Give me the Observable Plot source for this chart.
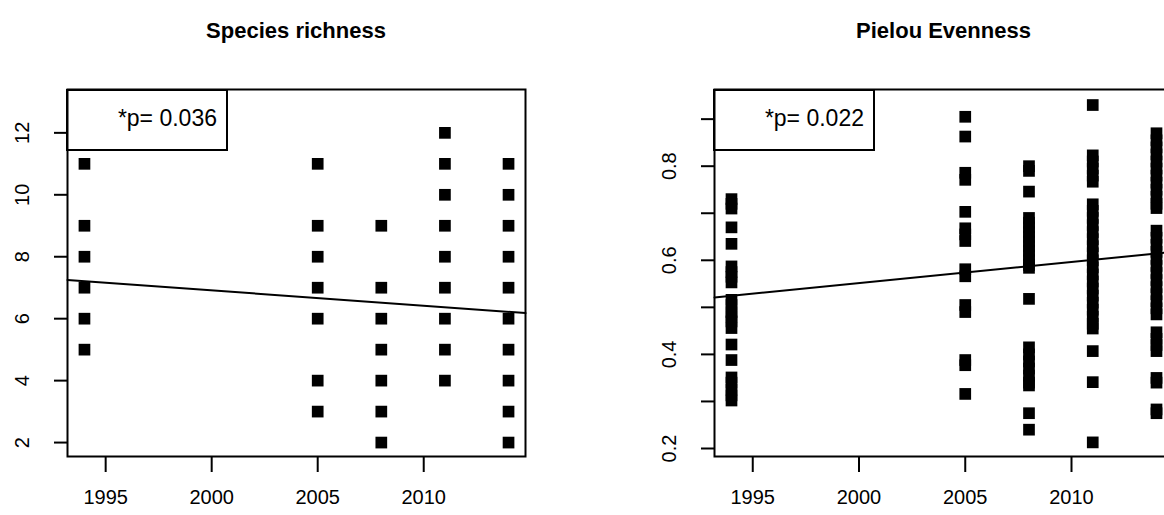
<!DOCTYPE html>
<html><head><meta charset="utf-8">
<script src="https://cdn.jsdelivr.net/npm/d3@7"></script>
<script src="https://cdn.jsdelivr.net/npm/@observablehq/plot@0.6"></script>
<style>
body{margin:0;background:#fff;}
#wrap{position:relative;width:1164px;height:515px;overflow:hidden;background:#fff;font-family:"Liberation Sans",Arial,sans-serif;}
.panel{position:absolute;top:0;}
.legend{position:absolute;top:89px;box-sizing:border-box;border:2px solid #000;height:62px;width:162px;font-size:23px;text-align:right;padding-right:9px;padding-top:16px;line-height:23px;color:#000;white-space:nowrap;}
.title{position:absolute;top:20px;font-size:22px;line-height:1;font-weight:bold;text-align:center;color:#000;}
</style></head><body><div id="wrap"></div>
<script>
// ---- data ----
const years = [1994, 2005, 2008, 2011, 2014];
const xTicks = [1995, 2000, 2005, 2010];
const xDomain = [1993.2, 2014.8];

const titles = ["Species richness", "Pielou Evenness"];
const legends = ["*p= 0.036", "*p= 0.022"];

const richTicks = [2, 4, 6, 8, 10, 12];
const richDomain = [1.55, 13.4];
const rich1994 = [11, 9, 8, 7, 6, 5];
const rich2005 = [11, 9, 8, 7, 6, 4, 3];
const rich2008 = [9, 7, 6, 5, 4, 3, 2];
const rich2011 = [12, 11, 10, 9, 8, 7, 6, 5, 4];
const rich2014 = [11, 10, 9, 8, 7, 6, 5, 4, 3, 2];
const richFit = [7.25, 6.18]; // fitted values at the x-domain ends

const evenTicks = [0.2, 0.3, 0.4, 0.5, 0.6, 0.7, 0.8, 0.9];
const evenLabels = [0.2, 0.4, 0.6, 0.8];
const evenDomain = [0.183, 0.963];
const even1994 = [0.73, 0.72, 0.71, 0.67, 0.635, 0.587, 0.575, 0.565, 0.553, 0.516, 0.505, 0.49, 0.48, 0.47, 0.456, 0.421, 0.388, 0.351, 0.34, 0.325, 0.313, 0.302];
const even2005 = [0.905, 0.863, 0.786, 0.771, 0.703, 0.668, 0.655, 0.641, 0.581, 0.566, 0.505, 0.49, 0.388, 0.377, 0.316];
const even2008 = [0.8, 0.79, 0.746, 0.69, 0.68, 0.67, 0.66, 0.65, 0.64, 0.63, 0.62, 0.61, 0.6, 0.59, 0.584, 0.518, 0.415, 0.4, 0.385, 0.37, 0.355, 0.34, 0.334, 0.275, 0.24];
const even2011 = [0.93, 0.823, 0.81, 0.795, 0.78, 0.767, 0.719, 0.705, 0.69, 0.675, 0.66, 0.645, 0.63, 0.615, 0.6, 0.585, 0.57, 0.555, 0.54, 0.525, 0.51, 0.495, 0.48, 0.465, 0.455, 0.407, 0.341, 0.213];
const even2014 = [0.87, 0.855, 0.84, 0.825, 0.81, 0.795, 0.78, 0.765, 0.75, 0.735, 0.72, 0.711, 0.663, 0.648, 0.633, 0.618, 0.603, 0.588, 0.573, 0.558, 0.543, 0.528, 0.513, 0.498, 0.485, 0.447, 0.433, 0.42, 0.407, 0.35, 0.34, 0.283, 0.275];
const evenFit = [0.521, 0.618];

// ---- build tables ----
function table(cols) {
  const out = [];
  cols.forEach((vals, i) => vals.forEach(v => out.push({year: years[i], value: v})));
  return out;
}
const richData = table([rich1994, rich2005, rich2008, rich2011, rich2014]);
const evenData = table([even1994, even2005, even2008, even2011, even2014]);
const richLine = xDomain.map((x, i) => ({year: x, value: richFit[i]}));
const evenLine = xDomain.map((x, i) => ({year: x, value: evenFit[i]}));

const wrap = document.getElementById("wrap");
const font = "'Liberation Sans', Arial, sans-serif";

function panel({data, line, yDomain, yTicks, yLabels, left, width, mL, mR, title, legend, fmt}) {
  const chart = Plot.plot({
    width, height: 515,
    marginLeft: mL, marginRight: mR, marginTop: 89, marginBottom: 59,
    style: {fontFamily: font, fontSize: "20px", color: "#000", background: "transparent", overflow: "visible"},
    x: {domain: xDomain, label: null},
    y: {domain: yDomain, label: null},
    marks: [
      Plot.axisX(xTicks, {tickSize: 16, tickPadding: 17, tickFormat: d => String(d), strokeWidth: 2, label: null}),
      Plot.axisY(yTicks, {tickSize: 13, strokeWidth: 2, fill: "none", label: null}),
      Plot.axisY(yLabels, {tickSize: 0, tickPadding: 39, tickRotate: -90, tickFormat: fmt, label: null}),
      Plot.dot(data, {x: "year", y: "value", symbol: "square", r: 6.6, fill: "#000"}),
      Plot.line(line, {x: "year", y: "value", stroke: "#000", strokeWidth: 2}),
      Plot.frame({stroke: "#000", strokeWidth: 2})
    ]
  });
  chart.classList.add("panel");
  chart.style.left = left + "px";
  wrap.appendChild(chart);
  const plotLeft = left + mL, plotRight = left + width - mR;
  const t = document.createElement("div");
  t.className = "title";
  t.textContent = title;
  t.style.left = plotLeft + "px";
  t.style.width = (plotRight - plotLeft) + "px";
  wrap.appendChild(t);
  const lg = document.createElement("div");
  lg.className = "legend";
  lg.textContent = legend;
  lg.style.left = (plotLeft - 1) + "px";
  wrap.appendChild(lg);
}

panel({data: richData, line: richLine, yDomain: richDomain, yTicks: richTicks, yLabels: richTicks,
  left: 0, width: 582, mL: 67, mR: 57, title: titles[0], legend: legends[0], fmt: d => String(d)});
panel({data: evenData, line: evenLine, yDomain: evenDomain, yTicks: evenTicks, yLabels: evenLabels,
  left: 582, width: 650, mL: 132, mR: 59, title: titles[1], legend: legends[1], fmt: d => d.toFixed(1)});
</script></body></html>
